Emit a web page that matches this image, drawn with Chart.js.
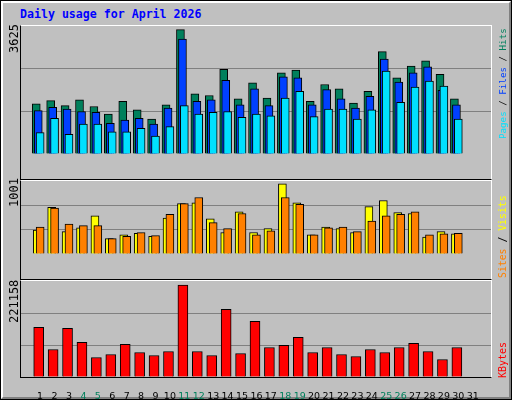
<!DOCTYPE html>
<html><head><meta charset="utf-8">
<script src="https://cdn.jsdelivr.net/npm/chart.js@4/dist/chart.umd.min.js"></script>
<style>
body{margin:0;background:#fff}
#wrap{position:relative;width:510px;height:398px;border:1px solid #000;background:#c0c0c0;overflow:hidden}
#bevel{position:absolute;left:0;top:0;width:506px;height:394px;border:2px solid;border-color:#fff #808080 #808080 #fff}
#title{position:absolute;left:19px;top:6px;font:bold 11.6px "DejaVu Sans Mono",monospace;color:#0000ff}
canvas{position:absolute;left:19px}
.frame{position:absolute;left:19px;width:470px;border:1px solid;border-color:#fff #fff #000 #000;pointer-events:none}
.rot{position:absolute;transform-origin:0 0;transform:rotate(-90deg);white-space:nowrap;font:9px "DejaVu Sans Mono",monospace}
</style></head><body>
<div id="wrap"><div id="bevel"></div>
<div id="title">Daily usage for April 2026</div>
<canvas id="c1" width="471" height="152" style="top:25px"></canvas>
<canvas id="c2" width="471" height="97" style="top:180px"></canvas>
<canvas id="c3" width="471" height="120" style="top:280px"></canvas>
<div class="frame" style="top:24px;height:153px"></div>
<div class="frame" style="top:179px;height:98px"></div>
<div class="frame" style="top:279px;height:96px"></div>
<div class="rot" style="left:6px;top:52px;font-size:12px">3625</div>
<div class="rot" style="left:6px;top:206px;font-size:12px">1001</div>
<div class="rot" style="left:6px;top:322px;font-size:12px">221158</div>
<div class="rot" style="left:496px;top:138px;font-size:9.2px"><span style="color:#00e0ff">Pages</span> / <span style="color:#0040ff">Files</span> / <span style="color:#00805c">Hits</span></div>
<div class="rot" style="left:496px;top:277px;font-size:9.8px"><span style="color:#ff8000">Sites</span> / <span style="color:#ffff00">Visits</span></div>
<div class="rot" style="left:496px;top:377px;font-size:10px;color:#ff0000">KBytes</div>
</div>
<script>
const days = Array.from({length: 31}, (_, i) => i + 1);
const weekendDays = [4, 5, 11, 12, 18, 19, 25, 26];
const hits  = [1460,1558,1411,1583,1386,1165,1534,1288,1017,1435,3625,1755,1706,2469,1607,2075,1632,2370,2444,1534,2026,1903,1484,1829,2985,2223,2567,2715,2321,1607];
const files = [1263,1361,1312,1238,1214,894,992,1042,869,1337,3354,1534,1583,2149,1435,1903,1411,2247,2223,1435,1878,1607,1337,1681,2764,2100,2370,2542,1854,1435];
const pages = [623,1042,574,869,869,648,648,746,525,796,1411,1165,1214,1238,1066,1165,1115,1632,1829,1091,1312,1312,1017,1288,2419,1509,1952,2124,1977,1017];
const sites  = [340,665,318,372,546,220,275,296,253,513,719,730,502,307,600,307,361,1001,730,275,383,361,307,676,763,589,578,242,318,286];
const visits = [383,654,426,405,405,220,253,307,264,567,719,806,448,361,578,275,329,806,708,275,372,383,318,470,546,567,600,275,286,296];
const kbytes = [119400,66200,117000,83100,46800,54100,78300,58900,51700,61300,221158,61300,51700,163000,56500,134000,71000,75900,95200,58900,71000,54100,49200,66200,58900,71000,80700,61300,42000,71000];

const pts = (arr, off) => arr.map((v, i) => ({x: i + 1 + off, y: v}));
const ds = (arr, off, color, w) => ({data: pts(arr, off), backgroundColor: color, borderColor: '#000',
  borderWidth: 1, barThickness: w, grouped: false, borderSkipped: 'bottom'});

function makeChart(id, datasets, max, showX) {
  new Chart(document.getElementById(id), {
    type: 'bar',
    data: {datasets},
    options: {
      responsive: false, animation: false, devicePixelRatio: 1,
      layout: {padding: 0},
      plugins: {legend: {display: false}, tooltip: {enabled: false}},
      scales: {
        x: {type: 'linear', min: 0.13, max: 31.74, display: showX,
          grid: {display: false}, border: {display: false},
          afterBuildTicks: s => { s.ticks = days.map(d => ({value: d})); },
          afterFit: s => { s.height = 24; },
          ticks: {padding: 6, autoSkip: false, maxRotation: 0,
            font: {family: 'DejaVu Sans', size: 9.5},
            color: c => weekendDays.includes(c.tick.value) ? '#00805c' : '#000'}},
        y: {min: 0, max: max,
          afterBuildTicks: s => { s.ticks = [0, max / 3, max * 2 / 3, max].map(v => ({value: v})); },
          afterFit: s => { s.width = 0; },
          ticks: {display: false}, border: {display: false},
          grid: {drawTicks: false, lineWidth: 1,
            color: c => (c.index === 1 || c.index === 2) ? '#808080' : 'rgba(0,0,0,0)'}}
      }
    }
  });
}

// first dataset is painted last (on top)
makeChart('c1', [ds(pages, 0, '#00e0ff', 8), ds(files, -0.13, '#0040ff', 8), ds(hits, -0.27, '#00805c', 8)], 3732, false);
makeChart('c2', [ds(visits, 0, '#ff8000', 8), ds(sites, -0.2, '#ffff00', 8)], 1041, false);
makeChart('c3', [ds(kbytes, -0.1, '#ff0000', 10)], 230830, true);
</script>
</body></html>
